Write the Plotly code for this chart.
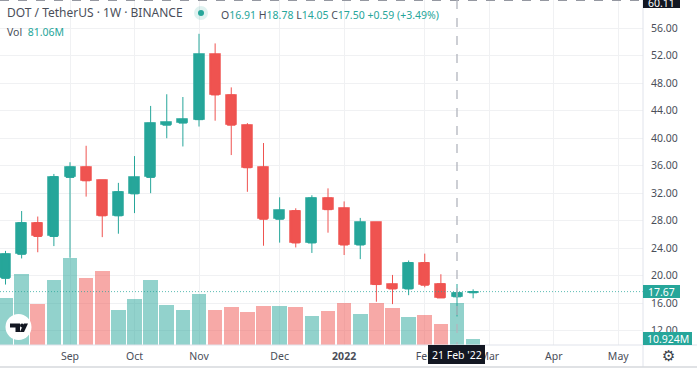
import plotly.graph_objects as go

dates = ["2021-08-09","2021-08-16","2021-08-23","2021-08-30","2021-09-06","2021-09-13","2021-09-20","2021-09-27",
         "2021-10-04","2021-10-11","2021-10-18","2021-10-25","2021-11-01","2021-11-08","2021-11-15","2021-11-22",
         "2021-11-29","2021-12-06","2021-12-13","2021-12-20","2021-12-27","2022-01-03","2022-01-10","2022-01-17",
         "2022-01-24","2022-01-31","2022-02-07","2022-02-14","2022-02-21","2022-02-28"]
opens  = [19.6,23.1,27.7,25.7,34.3,35.8,33.9,28.7,31.9,34.3,41.9,42.2,42.7,52.2,46.3,41.9,35.8,28.2,29.45,24.75,31.3,29.8,24.45,27.75,18.75,18.05,21.9,18.8,16.91,17.50]
highs  = [23.6,29.4,28.6,34.8,36.5,38.9,33.9,33.5,37.4,44.7,46.4,46.0,55.2,53.8,47.4,42.2,39.3,31.4,29.8,31.7,32.7,30.8,28.4,27.75,20.1,22.2,23.2,20.2,18.78,18.0]
lows   = [18.7,22.5,23.4,24.3,22.6,31.5,25.6,26.1,29.1,32.0,40.0,38.8,41.7,42.55,37.55,32.2,24.35,24.8,24.1,23.3,26.25,23.0,22.4,16.2,15.85,17.15,18.3,16.75,14.05,16.7]
closes = [23.15,27.7,25.7,34.4,35.8,33.8,28.7,32.2,34.3,42.2,42.3,42.75,52.2,46.3,41.9,35.7,28.2,29.5,24.75,31.3,29.6,24.45,27.75,18.7,18.05,21.9,18.6,16.75,17.50,17.67]
volumes = [90.1,137,79.7,126,167.3,128.7,142.8,68.1,88.8,126,77.8,67,97.9,68.1,73.3,64.3,75.3,75.3,73.3,56.5,65.6,81,59.3,81,71.4,54.6,57.9,41.1,81.06,10.924]

price_ticks = [12,16,20,24,28,32,36,40,44,48,52,56]
month_ticks = ["2021-09-06","2021-10-04","2021-11-01","2021-12-06","2022-01-03","2022-02-07","2022-03-07","2022-04-04","2022-05-02"]
month_labels = ["Sep","Oct","Nov","Dec","<b>2022</b>","Feb","Mar","Apr","May"]

W, H, PR, PB = 697, 368, 643, 345
GREEN, RED = "#26a69a", "#ef5350"
INK = "#4a4e59"
FONT = "Noto Sans"

def px(x): return x / PR
def py(y): return 1 - y / PB

up = [c >= o for o, c in zip(opens, closes)]
bar_colors = ["rgba(38,166,154,0.5)" if u else "rgba(239,83,80,0.5)" for u in up]
body_colors = [GREEN if u else RED for u in up]

fig = go.Figure()
fig.add_trace(go.Bar(x=dates, y=volumes, yaxis="y", width=552000000,
                     marker=dict(color=bar_colors, line=dict(width=0)), showlegend=False))
fig.add_trace(go.Candlestick(x=dates, open=opens, high=highs, low=lows, close=closes, yaxis="y2",
                             increasing=dict(line=dict(color=GREEN, width=1), fillcolor=GREEN),
                             decreasing=dict(line=dict(color=RED, width=1), fillcolor=RED),
                             whiskerwidth=0, showlegend=False))
fig.add_trace(go.Bar(x=dates, y=[c - o for o, c in zip(opens, closes)], base=opens, yaxis="y2", width=413000000,
                     marker=dict(color=body_colors, line=dict(width=1, color=bar_colors)), showlegend=False))

def box(x0, y0, x1, y1, color):
    return dict(type="rect", xref="paper", yref="paper", x0=px(x0), x1=px(x1), y0=py(y0), y1=py(y1),
                fillcolor=color, line=dict(width=0), layer="above")

def hline(x0, x1, y, color, dash="solid", w=1):
    return dict(type="line", xref="paper", yref="paper", x0=px(x0), x1=px(x1), y0=py(y), y1=py(y),
                line=dict(color=color, width=w, dash=dash), layer="above")

def vline(x, y0, y1, color, dash="solid", w=1):
    return dict(type="line", xref="paper", yref="paper", x0=px(x), x1=px(x), y0=py(y0), y1=py(y1),
                line=dict(color=color, width=w, dash=dash), layer="above")

def circle(cx, cy, r, color):
    return dict(type="circle", xref="paper", yref="paper", x0=px(cx-r), x1=px(cx+r), y0=py(cy+r), y1=py(cy-r),
                fillcolor=color, line=dict(width=0), layer="above")

def poly(points, color):
    d = "M" + " L".join(f"{px(x):.5f},{py(y):.5f}" for x, y in points) + " Z"
    return dict(type="path", xref="paper", yref="paper", path=d, fillcolor=color, line=dict(width=0), layer="above")

shapes = [
    dict(type="line", xref="paper", yref="y2", x0=0, x1=1, y0=17.67, y1=17.67,
         line=dict(color="rgba(38,166,154,0.75)", width=1, dash="1px,2px"), layer="above"),
    hline(0, PR, 0.5, "#9598a1", "dash"),
    vline(457, 0, PB, "#b2b5be", "dash", 1.3),
    hline(0, W, PB, "#e0e3eb"),
    vline(PR, 0, 367, "#e0e3eb"),
    hline(0, W, 367, "#d6d8dd", w=1.5),
    circle(201, 13, 7, "rgba(38,166,154,0.15)"),
    circle(201, 13, 3, GREEN),
    circle(18.5, 327, 13, "#ffffff"),
    poly([(10,323.5),(20,323.5),(20,332),(15.5,332),(15.5,327.5),(10,327.5)], "#131722"),
    circle(22, 325.5, 2, "#131722"),
    poly([(24,323.5),(28,323.5),(24,332),(19.8,332)], "#131722"),
    box(643, -3, 680, 8, "#131722"),
    box(643, 285, 680, 298, GREEN),
    box(643, 332, 692, 345, GREEN),
    box(428, 345, 485, 364, "#131722"),
]

def note(x, y, text, size=11, color=INK, anchor="left", family=FONT):
    return dict(xref="paper", yref="paper", x=px(x), y=py(y), text=text, showarrow=False, xanchor=anchor,
                yanchor="middle", font=dict(size=size, color=color, family=family), borderpad=0, borderwidth=0)

def v(t): return f'<span style="color:{GREEN}">{t}</span>'

annotations = [
    note(7, 12.5, "DOT / TetherUS · 1W · BINANCE", 12),
    note(221, 14.5, "O" + v("16.91") + " H" + v("18.78") + " L" + v("14.05") + " C" + v("17.50") + " " + v("+0.59 (+3.49%)"), 10.5, INK),
    note(7, 32.5, "Vol  " + v("81.06M"), 10.5),
    note(661.5, 2.5, "60.11", 10.5, "#ffffff", "center"),
    note(661.5, 292, "17.67", 10.5, "#ffffff", "center"),
    note(667.5, 339, "10.924M", 10.5, "#ffffff", "center"),
    note(456.5, 355, "21 Feb '22", 10.5, "#ffffff", "center"),
    note(668, 356, "⚙", 15, "#3a3e48", "center", "DejaVu Sans"),
]

fig.update_layout(
    width=W, height=H, margin=dict(l=0, r=W-PR, t=0, b=H-PB, pad=0, autoexpand=False),
    paper_bgcolor="#ffffff", plot_bgcolor="#ffffff", bargap=0, barmode="overlay",
    font=dict(family=FONT, size=10.5, color=INK),
    shapes=shapes, annotations=annotations, hovermode=False,
    xaxis=dict(type="date", range=["2021-08-06 14:38", "2022-05-12 17:46"], rangeslider=dict(visible=False),
               tickmode="array", tickvals=month_ticks, ticktext=month_labels, ticks="", tickangle=0,
               showgrid=True, gridcolor="#f0f1f3", gridwidth=1, showline=False, zeroline=False, ticklabelstandoff=3),
    yaxis=dict(range=[0, 666], visible=False, showgrid=False, zeroline=False),
    yaxis2=dict(overlaying="y", side="right", range=[9.9, 60.12], tickmode="array", tickvals=price_ticks,
                ticktext=[f"{t:.2f}" for t in price_ticks], ticks="", showgrid=True, gridcolor="#f0f1f3",
                gridwidth=1, zeroline=False, showline=False, ticklabelstandoff=7),
)

fig.write_html("out.html", config=dict(displayModeBar=False), post_script="document.body.style.margin='0';")
